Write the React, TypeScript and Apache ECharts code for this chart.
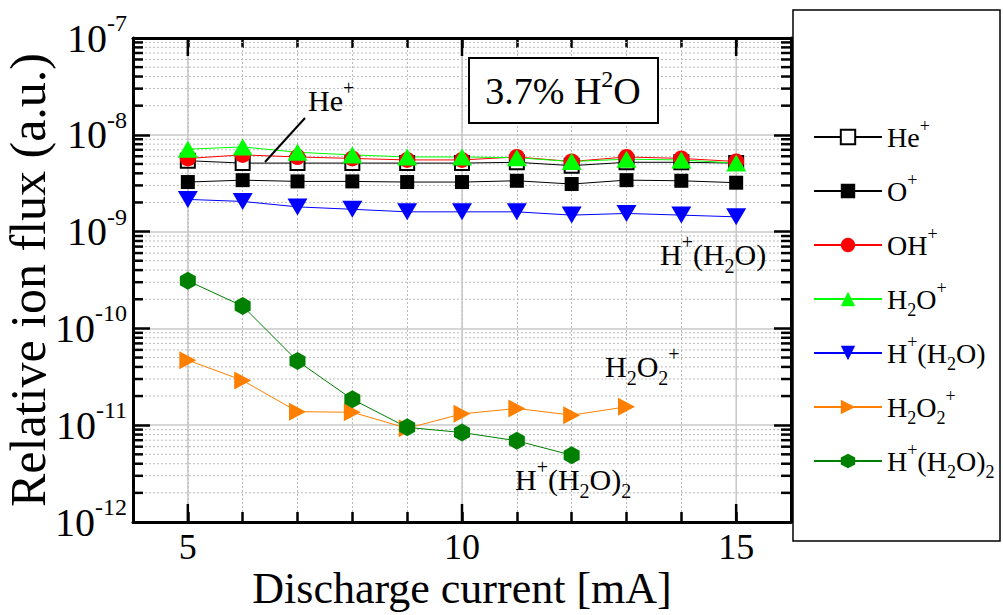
import React, { useEffect, useRef } from 'react';
import * as echarts from 'echarts';

const FONT = 'Liberation Serif';

const currents = [5, 6, 7, 8, 9, 10, 11, 12, 13, 14, 15];
const heIon = [5.4e-9, 5.1e-9, 5.1e-9, 5.1e-9, 5.1e-9, 5.1e-9, 5.2e-9, 4.8e-9, 5.2e-9, 5.2e-9, 5.1e-9];
const oIon = [3.25e-9, 3.4e-9, 3.3e-9, 3.3e-9, 3.25e-9, 3.25e-9, 3.35e-9, 3.1e-9, 3.4e-9, 3.35e-9, 3.2e-9];
const ohIon = [5.7e-9, 6.2e-9, 5.9e-9, 5.7e-9, 5.5e-9, 5.5e-9, 5.9e-9, 5.3e-9, 5.9e-9, 5.7e-9, 5.3e-9];
const h2oIon = [7.1e-9, 7.5e-9, 6.6e-9, 6.2e-9, 5.9e-9, 5.9e-9, 5.8e-9, 5.3e-9, 5.6e-9, 5.5e-9, 5.1e-9];
const hh2oIon = [2.15e-9, 2.05e-9, 1.8e-9, 1.7e-9, 1.6e-9, 1.6e-9, 1.6e-9, 1.48e-9, 1.54e-9, 1.48e-9, 1.42e-9];
const h2o2Currents = [5, 6, 7, 8, 9, 10, 11, 12, 13];
const h2o2Ion = [4.7e-11, 2.9e-11, 1.38e-11, 1.36e-11, 9.3e-12, 1.31e-11, 1.49e-11, 1.27e-11, 1.55e-11];
const clusterCurrents = [5, 6, 7, 8, 9, 10, 11, 12];
const clusterIon = [3.1e-10, 1.7e-10, 4.6e-11, 1.85e-11, 9.5e-12, 8.4e-12, 6.9e-12, 4.9e-12];

const xMin = 4;
const xMax = 16;
const xMajor = [5, 10, 15];
const yMin = 1e-12;
const yMax = 1e-7;
const decadeExps = [-12, -11, -10, -9, -8];
const mantissas = [2, 3, 4, 5, 6, 7, 8, 9];

const names = ['He+', 'O+', 'OH+', 'H2O+', 'H+(H2O)', 'H2O2+', 'H+(H2O)2'];
const richNames: Record<string, string> = {
  'He+': 'He{sup|+}',
  'O+': 'O{sup|+}',
  'OH+': 'OH{sup|+}',
  'H2O+': 'H{sub|2}O{sup|+}',
  'H+(H2O)': 'H{sup|+}(H{sub|2}O)',
  'H2O2+': 'H{sub|2}O{sub|2}{sup|+}',
  'H+(H2O)2': 'H{sup|+}(H{sub|2}O){sub|2}',
};

const HEX = 'path://M0,-1 L0.866,-0.5 L0.866,0.5 L0,1 L-0.866,0.5 L-0.866,-0.5 Z';

function richStyle(base: number, small: number, lh: number) {
  return {
    fontFamily: FONT,
    fontSize: base,
    color: '#000',
    lineHeight: lh,
    rich: {
      sup: { fontFamily: FONT, fontSize: small, color: '#000', verticalAlign: 'top', lineHeight: small },
      sub: { fontFamily: FONT, fontSize: small, color: '#000', verticalAlign: 'bottom', lineHeight: small },
    },
  };
}

function pair(xs: number[], ys: number[]) {
  return xs.map((x, i) => [x, ys[i]]);
}

export default function App() {
  const ref = useRef<HTMLDivElement>(null);
  useEffect(() => {
    if (!ref.current) return;
    const chart = echarts.init(ref.current, null, { renderer: 'svg' });
    const yMinor: number[] = [];
    decadeExps.forEach((e) => mantissas.forEach((m) => yMinor.push(m * Math.pow(10, e))));

    const lineSeries = (name: string, data: number[][], color: string, symbol: string, size: any, extra: any = {}) => ({
      name,
      type: 'line',
      data,
      symbol,
      symbolSize: size,
      z: 3,
      lineStyle: { color, width: 1 },
      itemStyle: { color },
      ...extra,
    });

    const option: any = {
      animation: false,
      backgroundColor: '#fff',
      grid: { left: 133, top: 38, right: 212, bottom: 93, containLabel: false, outerBoundsMode: 'none' },
      legend: {
        data: names,
        orient: 'vertical',
        left: 808,
        top: 112,
        itemWidth: 68,
        itemHeight: 18,
        itemGap: 14,
        formatter: (n: string) => richNames[n],
        textStyle: richStyle(28, 18, 40),
      },
      graphic: [
        { type: 'rect', shape: { x: 793, y: 10, width: 207, height: 531 }, style: { fill: 'none', stroke: '#000', lineWidth: 1.5 }, z: -1 },
        { type: 'rect', shape: { x: 469, y: 58, width: 189, height: 65 }, style: { fill: '#fff', stroke: '#000', lineWidth: 2 }, z: 10 },
        { type: 'text', x: 563, y: 91, z: 11, style: { text: '3.7% H{sup|2}O', align: 'center', verticalAlign: 'middle', ...richStyle(38, 24, 48) } },
        { type: 'text', x: 308, y: 100, z: 11, style: { text: 'He{sup|+}', align: 'left', verticalAlign: 'middle', ...richStyle(30, 20, 44) } },
        { type: 'line', z: 11, shape: { x1: 305, y1: 118, x2: 265, y2: 162 }, style: { stroke: '#000', lineWidth: 2 } },
        { type: 'text', x: 660, y: 254, z: 11, style: { text: 'H{sup|+}(H{sub|2}O)', align: 'left', verticalAlign: 'middle', ...richStyle(30, 20, 44) } },
        { type: 'text', x: 605, y: 366, z: 11, style: { text: 'H{sub|2}O{sub|2}{sup|+}', align: 'left', verticalAlign: 'middle', ...richStyle(30, 20, 44) } },
        { type: 'text', x: 515, y: 479, z: 11, style: { text: 'H{sup|+}(H{sub|2}O){sub|2}', align: 'left', verticalAlign: 'middle', ...richStyle(30, 20, 44) } },
      ],
      xAxis: [
        {
          type: 'value',
          min: xMin,
          max: xMax,
          interval: 1,
          name: 'Discharge current [mA]',
          nameLocation: 'middle',
          nameGap: 44,
          nameMoveOverlap: false,
          nameTextStyle: { fontFamily: FONT, fontSize: 44, lineHeight: 44, color: '#000' },
          axisLine: { show: true, lineStyle: { color: '#000', width: 3 } },
          axisTick: { show: true, inside: true, length: 10, lineStyle: { color: '#000', width: 2.5 } },
          axisLabel: {
            fontFamily: FONT,
            fontSize: 36,
            lineHeight: 30,
            color: '#000',
            margin: 10,
            formatter: (v: number) => (v % 5 === 0 ? String(v) : ''),
          },
          splitLine: { show: true, lineStyle: { color: '#bbb', width: 1, type: [2, 2] } },
        },
        {
          type: 'value',
          position: 'top',
          min: xMin,
          max: xMax,
          interval: 1,
          axisLine: { show: true, lineStyle: { color: '#000', width: 3 } },
          axisTick: { show: true, inside: true, length: 10, lineStyle: { color: '#000', width: 2.5 } },
          axisLabel: { show: false },
          splitLine: { show: false },
        },
      ],
      yAxis: [
        {
          type: 'log',
          logBase: 10,
          min: yMin,
          max: yMax,
          name: 'Relative ion flux (a.u.)',
          nameLocation: 'middle',
          nameGap: 84,
          nameMoveOverlap: false,
          nameTextStyle: { fontFamily: FONT, fontSize: 50, lineHeight: 42, color: '#000' },
          axisLine: { show: true, lineStyle: { color: '#000', width: 3 } },
          axisTick: { show: true, inside: true, length: 17, lineStyle: { color: '#000', width: 2.5 } },
          axisLabel: {
            margin: 6,
            formatter: (v: number) => '10{sup|' + Math.round(Math.log10(v)) + '}',
            ...richStyle(40, 24, 54),
          },
          splitLine: { show: true, lineStyle: { color: '#c8c8c8', width: 1.5 } },
        },
        {
          type: 'log',
          logBase: 10,
          position: 'right',
          min: yMin,
          max: yMax,
          axisLine: { show: true, lineStyle: { color: '#000', width: 3 } },
          axisTick: { show: true, inside: true, length: 17, lineStyle: { color: '#000', width: 2.5 } },
          axisLabel: { show: false },
          splitLine: { show: false },
        },
      ],
      series: [
        {
          type: 'custom',
          name: 'yMinorGrid',
          silent: true,
          z: 1,
          clip: false,
          data: yMinor.map((v) => [xMin, v]),
          renderItem: (_p: any, api: any) => {
            const v = api.value(1);
            const a = api.coord([xMin, v]);
            const b = api.coord([xMax, v]);
            return {
              type: 'group',
              children: [
                { type: 'line', shape: { x1: a[0], y1: a[1], x2: b[0], y2: b[1] }, style: { stroke: '#bbb', lineWidth: 1, lineDash: [2, 2] } },
                { type: 'line', shape: { x1: a[0], y1: a[1], x2: a[0] + 10, y2: a[1] }, style: { stroke: '#000', lineWidth: 2.5 } },
                { type: 'line', shape: { x1: b[0] - 10, y1: b[1], x2: b[0], y2: b[1] }, style: { stroke: '#000', lineWidth: 2.5 } },
              ],
            };
          },
        },
        {
          type: 'custom',
          name: 'xMajorGrid',
          silent: true,
          z: 1,
          clip: false,
          data: xMajor.map((x) => [x, yMin]),
          renderItem: (_p: any, api: any) => {
            const x = api.value(0);
            const a = api.coord([x, yMin]);
            const b = api.coord([x, yMax]);
            return {
              type: 'group',
              children: [
                { type: 'line', shape: { x1: a[0], y1: a[1], x2: b[0], y2: b[1] }, style: { stroke: '#c8c8c8', lineWidth: 1.5 } },
                { type: 'line', shape: { x1: a[0], y1: a[1], x2: a[0], y2: a[1] - 18 }, style: { stroke: '#000', lineWidth: 2.5 } },
                { type: 'line', shape: { x1: b[0], y1: b[1], x2: b[0], y2: b[1] + 18 }, style: { stroke: '#000', lineWidth: 2.5 } },
              ],
            };
          },
        },
        lineSeries('He+', pair(currents, heIon), '#000', 'emptyRect', 14, { itemStyle: { color: '#000', borderWidth: 1.5 } }),
        lineSeries('O+', pair(currents, oIon), '#000', 'rect', 14),
        lineSeries('OH+', pair(currents, ohIon), '#ff0000', 'circle', 16),
        lineSeries('H2O+', pair(currents, h2oIon), '#00ff00', 'triangle', [20, 17]),
        lineSeries('H+(H2O)', pair(currents, hh2oIon), '#0000ff', 'triangle', [20, 17], { symbolRotate: 180 }),
        lineSeries('H2O2+', pair(h2o2Currents, h2o2Ion), '#ff8000', 'triangle', [18, 17], { symbolRotate: -90 }),
        lineSeries('H+(H2O)2', pair(clusterCurrents, clusterIon), '#008000', HEX, [16, 18]),
      ],
    };
    chart.setOption(option);
    return () => chart.dispose();
  }, []);
  return <div ref={ref} style={{ position: 'fixed', left: 0, top: 0, width: 1003, height: 615 }} />;
}
